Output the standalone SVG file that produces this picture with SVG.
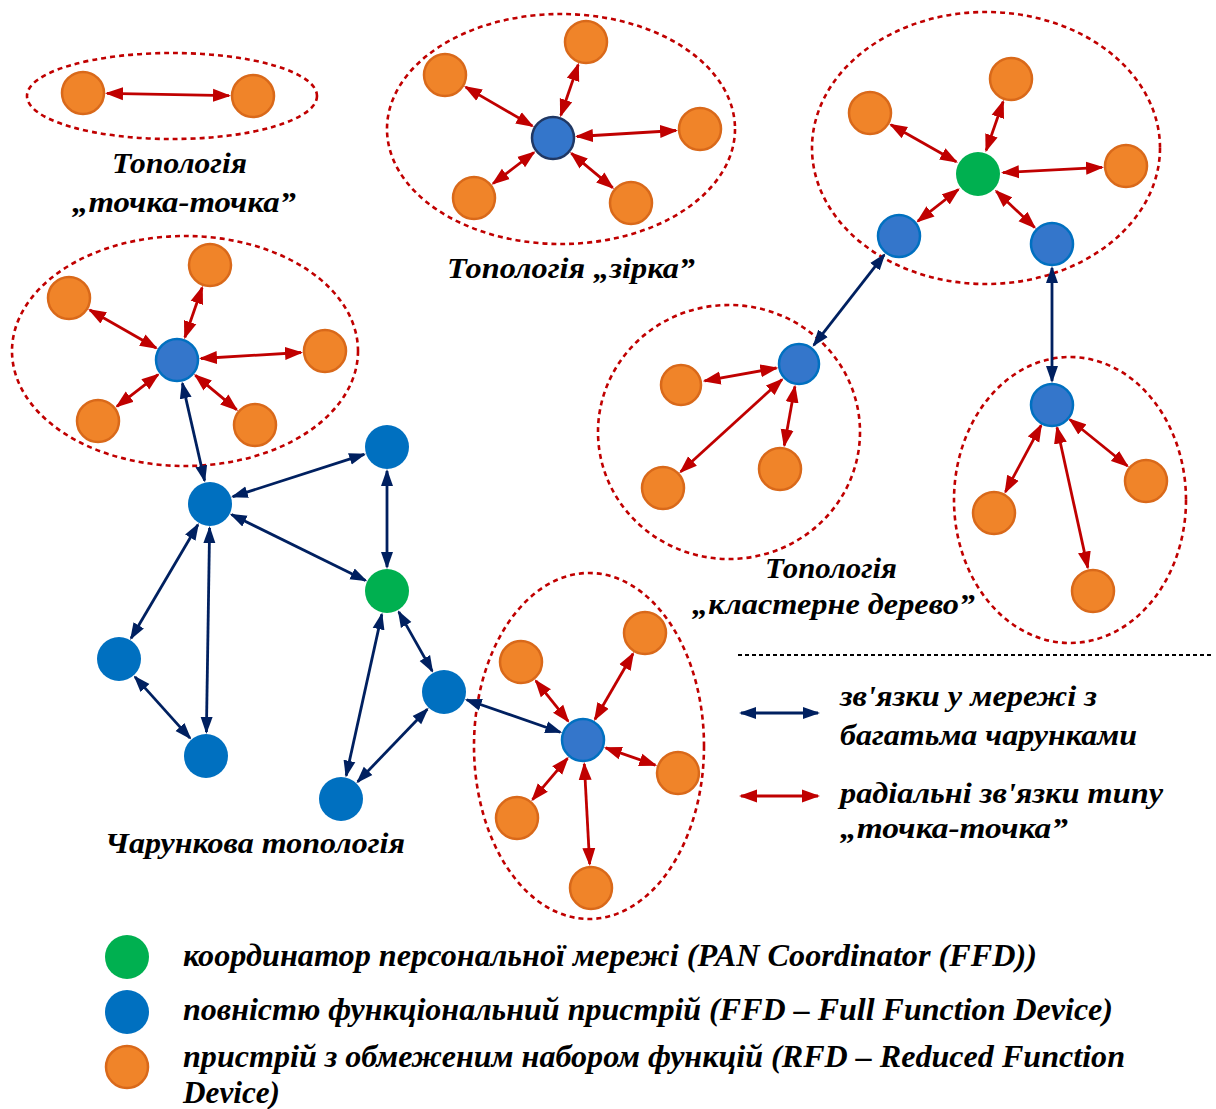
<svg xmlns="http://www.w3.org/2000/svg" width="1216" height="1109" viewBox="0 0 1216 1109">
<defs>
<marker id="ar" markerUnits="userSpaceOnUse" markerWidth="18" markerHeight="14" refX="16" refY="7" orient="auto-start-reverse"><path d="M0,0.5 L18,7 L0,13.5 z" fill="#C00000"/></marker>
<marker id="an" markerUnits="userSpaceOnUse" markerWidth="17" markerHeight="13" refX="15" refY="6.5" orient="auto-start-reverse"><path d="M0,0.5 L17,6.5 L0,12.5 z" fill="#002060"/></marker>
<style>
.grp{fill:none;stroke:#C00000;stroke-width:2.6;stroke-dasharray:5 4}
.or{fill:#F08429;stroke:#D9691A;stroke-width:2.5}
.bl{fill:#3476CB;stroke:#0070C0;stroke-width:2.5}
.bc{fill:#3476CB;stroke:#203864;stroke-width:2.5}
.mb{fill:#0070C0}
.gr{fill:#00B050}
.r{stroke:#C00000;stroke-width:2.8;fill:none;marker-start:url(#ar);marker-end:url(#ar)}
.n{stroke:#002060;stroke-width:2.8;fill:none;marker-start:url(#an);marker-end:url(#an)}
text{font-family:"Liberation Serif","Times New Roman",serif;font-weight:bold;font-style:italic;fill:#000}
.cap{font-size:30px}
.lg{font-size:29px}
.lb{font-size:31px}
</style>
</defs>
<rect width="1216" height="1109" fill="#fff"/>

<g id="groups">
<ellipse class="grp" cx="172" cy="96" rx="145" ry="43"/>
<ellipse class="grp" cx="561" cy="129" rx="174" ry="115"/>
<ellipse class="grp" cx="986" cy="148" rx="174" ry="136"/>
<ellipse class="grp" cx="729" cy="432" rx="131" ry="127"/>
<ellipse class="grp" cx="1070" cy="500" rx="116" ry="143"/>
<ellipse class="grp" cx="185" cy="351" rx="173" ry="115"/>
<ellipse class="grp" cx="589" cy="746" rx="115" ry="173"/>
</g>

<g id="connectors">
<line class="r" x1="107" y1="93.4" x2="229" y2="95.6"/>
<line class="r" x1="532.3" y1="125.9" x2="465.7" y2="87.1"/>
<line class="r" x1="560.8" y1="115.3" x2="578.2" y2="64.7"/>
<line class="r" x1="577" y1="136.5" x2="676" y2="130.5"/>
<line class="r" x1="533.9" y1="152.5" x2="493.1" y2="183.5"/>
<line class="r" x1="571.4" y1="153.4" x2="612.6" y2="187.6"/>
<line class="r" x1="956.2" y1="161.7" x2="890.9" y2="124.8"/>
<line class="r" x1="986.2" y1="150.4" x2="1003.1" y2="101.7"/>
<line class="r" x1="1003" y1="172.6" x2="1102" y2="167.3"/>
<line class="r" x1="958.3" y1="189.5" x2="917.9" y2="221.2"/>
<line class="r" x1="996.2" y1="191.2" x2="1034.6" y2="227.5"/>
<line class="n" x1="884.2" y1="254.9" x2="813.8" y2="345.1"/>
<line class="n" x1="1052" y1="268" x2="1052" y2="381"/>
<line class="r" x1="776.4" y1="368" x2="704.6" y2="380.8"/>
<line class="r" x1="782" y1="379.5" x2="680.7" y2="471.8"/>
<line class="r" x1="794.9" y1="386.6" x2="784.3" y2="445.4"/>
<line class="r" x1="1041.1" y1="425.3" x2="1005.4" y2="491.9"/>
<line class="r" x1="1069.9" y1="419.5" x2="1127.4" y2="466"/>
<line class="r" x1="1057" y1="427.5" x2="1087.8" y2="567.6"/>
<line class="r" x1="156.2" y1="348" x2="89.8" y2="310"/>
<line class="r" x1="184.9" y1="337.3" x2="202.1" y2="287.7"/>
<line class="r" x1="201" y1="358.5" x2="301" y2="352.5"/>
<line class="r" x1="158" y1="374.7" x2="117" y2="406.3"/>
<line class="r" x1="195.4" y1="375.4" x2="236.6" y2="409.6"/>
<line class="n" x1="182.4" y1="383.4" x2="204.6" y2="480.6"/>
<line class="n" x1="232.8" y1="496.7" x2="364.2" y2="454.3"/>
<line class="n" x1="231.5" y1="514.6" x2="365.5" y2="580.4"/>
<line class="n" x1="197.9" y1="524.7" x2="131.1" y2="638.3"/>
<line class="n" x1="209.6" y1="528" x2="206.4" y2="732"/>
<line class="n" x1="135" y1="676.9" x2="190" y2="738.1"/>
<line class="n" x1="387" y1="471" x2="387" y2="567"/>
<line class="n" x1="398.8" y1="611.9" x2="432.2" y2="671.1"/>
<line class="n" x1="381.8" y1="614.4" x2="346.2" y2="775.6"/>
<line class="n" x1="427.3" y1="709.3" x2="357.7" y2="781.7"/>
<line class="n" x1="466.7" y1="699.8" x2="560.3" y2="732.2"/>
<line class="r" x1="568.1" y1="721.2" x2="535.9" y2="680.8"/>
<line class="r" x1="595" y1="719.2" x2="633" y2="653.8"/>
<line class="r" x1="605.7" y1="747.9" x2="655.3" y2="765.1"/>
<line class="r" x1="567.5" y1="758.3" x2="532.5" y2="799.7"/>
<line class="r" x1="584.3" y1="764" x2="589.7" y2="864"/>
<line class="n" x1="741" y1="713" x2="818" y2="713"/>
<line class="r" x1="741" y1="796" x2="818" y2="796"/>
</g>

<g id="pp-nodes">
<circle id="pp1" class="or" cx="83" cy="93" r="21"/>
<circle id="pp2" class="or" cx="253" cy="96" r="21"/>
</g>
<g id="star-nodes">
<circle id="s0" class="bc" cx="553" cy="138" r="21"/>
<circle id="s1" class="or" cx="445" cy="75" r="21"/>
<circle id="s2" class="or" cx="586" cy="42" r="21"/>
<circle id="s3" class="or" cx="700" cy="129" r="21"/>
<circle id="s4" class="or" cx="474" cy="198" r="21"/>
<circle id="s5" class="or" cx="631" cy="203" r="21"/>
</g>
<g id="tree-nodes">
<circle id="t0" class="gr" cx="978" cy="174" r="22"/>
<circle id="t1" class="or" cx="870" cy="113" r="21"/>
<circle id="t2" class="or" cx="1011" cy="79" r="21"/>
<circle id="t3" class="or" cx="1126" cy="166" r="21"/>
<circle id="t4" class="bl" cx="899" cy="236" r="21"/>
<circle id="t5" class="bl" cx="1052" cy="244" r="21"/>
<circle id="t6" class="bl" cx="799" cy="364" r="20"/>
<circle id="t7" class="or" cx="681" cy="385" r="20"/>
<circle id="t8" class="or" cx="663" cy="488" r="21"/>
<circle id="t9" class="or" cx="780" cy="469" r="21"/>
<circle id="t10" class="bl" cx="1052" cy="405" r="21"/>
<circle id="t11" class="or" cx="994" cy="513" r="21"/>
<circle id="t12" class="or" cx="1146" cy="481" r="21"/>
<circle id="t13" class="or" cx="1093" cy="591" r="21"/>
</g>
<g id="mesh-nodes">
<circle id="m0" class="bl" cx="177" cy="360" r="21"/>
<circle id="m1" class="or" cx="69" cy="298" r="21"/>
<circle id="m2" class="or" cx="210" cy="265" r="21"/>
<circle id="m3" class="or" cx="325" cy="351" r="21"/>
<circle id="m4" class="or" cx="98" cy="421" r="21"/>
<circle id="m5" class="or" cx="255" cy="425" r="21"/>
<circle id="mA" class="mb" cx="210" cy="504" r="22"/>
<circle id="mB" class="mb" cx="387" cy="447" r="22"/>
<circle id="mC" class="mb" cx="119" cy="659" r="22"/>
<circle id="mD" class="mb" cx="206" cy="756" r="22"/>
<circle id="mG" class="gr" cx="387" cy="591" r="22"/>
<circle id="mE" class="mb" cx="444" cy="692" r="22"/>
<circle id="mF" class="mb" cx="341" cy="799" r="22"/>
<circle id="h0" class="bl" cx="583" cy="740" r="21"/>
<circle id="h1" class="or" cx="521" cy="662" r="21"/>
<circle id="h2" class="or" cx="645" cy="633" r="21"/>
<circle id="h3" class="or" cx="678" cy="773" r="21"/>
<circle id="h4" class="or" cx="517" cy="818" r="21"/>
<circle id="h5" class="or" cx="591" cy="888" r="21"/>
</g>

<g id="labels">
<text class="cap" x="112" y="173" textLength="135" lengthAdjust="spacingAndGlyphs">Топологія</text>
<text class="cap" x="72" y="212" textLength="224" lengthAdjust="spacingAndGlyphs">„точка-точка”</text>
<text class="cap" x="447" y="278" textLength="248" lengthAdjust="spacingAndGlyphs">Топологія „зірка”</text>
<text class="cap" x="765" y="578" textLength="132" lengthAdjust="spacingAndGlyphs">Топологія</text>
<text class="cap" x="692" y="614" textLength="283" lengthAdjust="spacingAndGlyphs">„кластерне дерево”</text>
<text class="cap" x="105" y="853" textLength="300" lengthAdjust="spacingAndGlyphs">Чарункова топологія</text>
</g>

<g id="legend">
<line x1="738" y1="655" x2="1214" y2="655" stroke="#000" stroke-width="2" stroke-dasharray="4 3"/>
<text class="lg" x="840" y="706" textLength="257" lengthAdjust="spacingAndGlyphs">зв'язки у мережі з</text>
<text class="lg" x="840" y="745" textLength="297" lengthAdjust="spacingAndGlyphs">багатьма чарунками</text>
<text class="lg" x="840" y="803" textLength="323" lengthAdjust="spacingAndGlyphs">радіальні зв'язки типу</text>
<text class="lg" x="840" y="838" textLength="228" lengthAdjust="spacingAndGlyphs">„точка-точка”</text>
<circle class="gr" cx="127" cy="957" r="22"/>
<circle class="mb" cx="127" cy="1012" r="22"/>
<circle class="or" cx="127" cy="1067" r="21"/>
<text class="lb" x="183" y="966" textLength="854" lengthAdjust="spacingAndGlyphs">координатор персональної мережі (PAN Coordinator (FFD))</text>
<text class="lb" x="183" y="1020" textLength="930" lengthAdjust="spacingAndGlyphs">повністю функціональний пристрій (FFD – Full Function Device)</text>
<text class="lb" x="183" y="1067" textLength="942" lengthAdjust="spacingAndGlyphs">пристрій з обмеженим набором функцій (RFD – Reduced Function</text>
<text class="lb" x="183" y="1103" textLength="97" lengthAdjust="spacingAndGlyphs">Device)</text>
</g>
</svg>
